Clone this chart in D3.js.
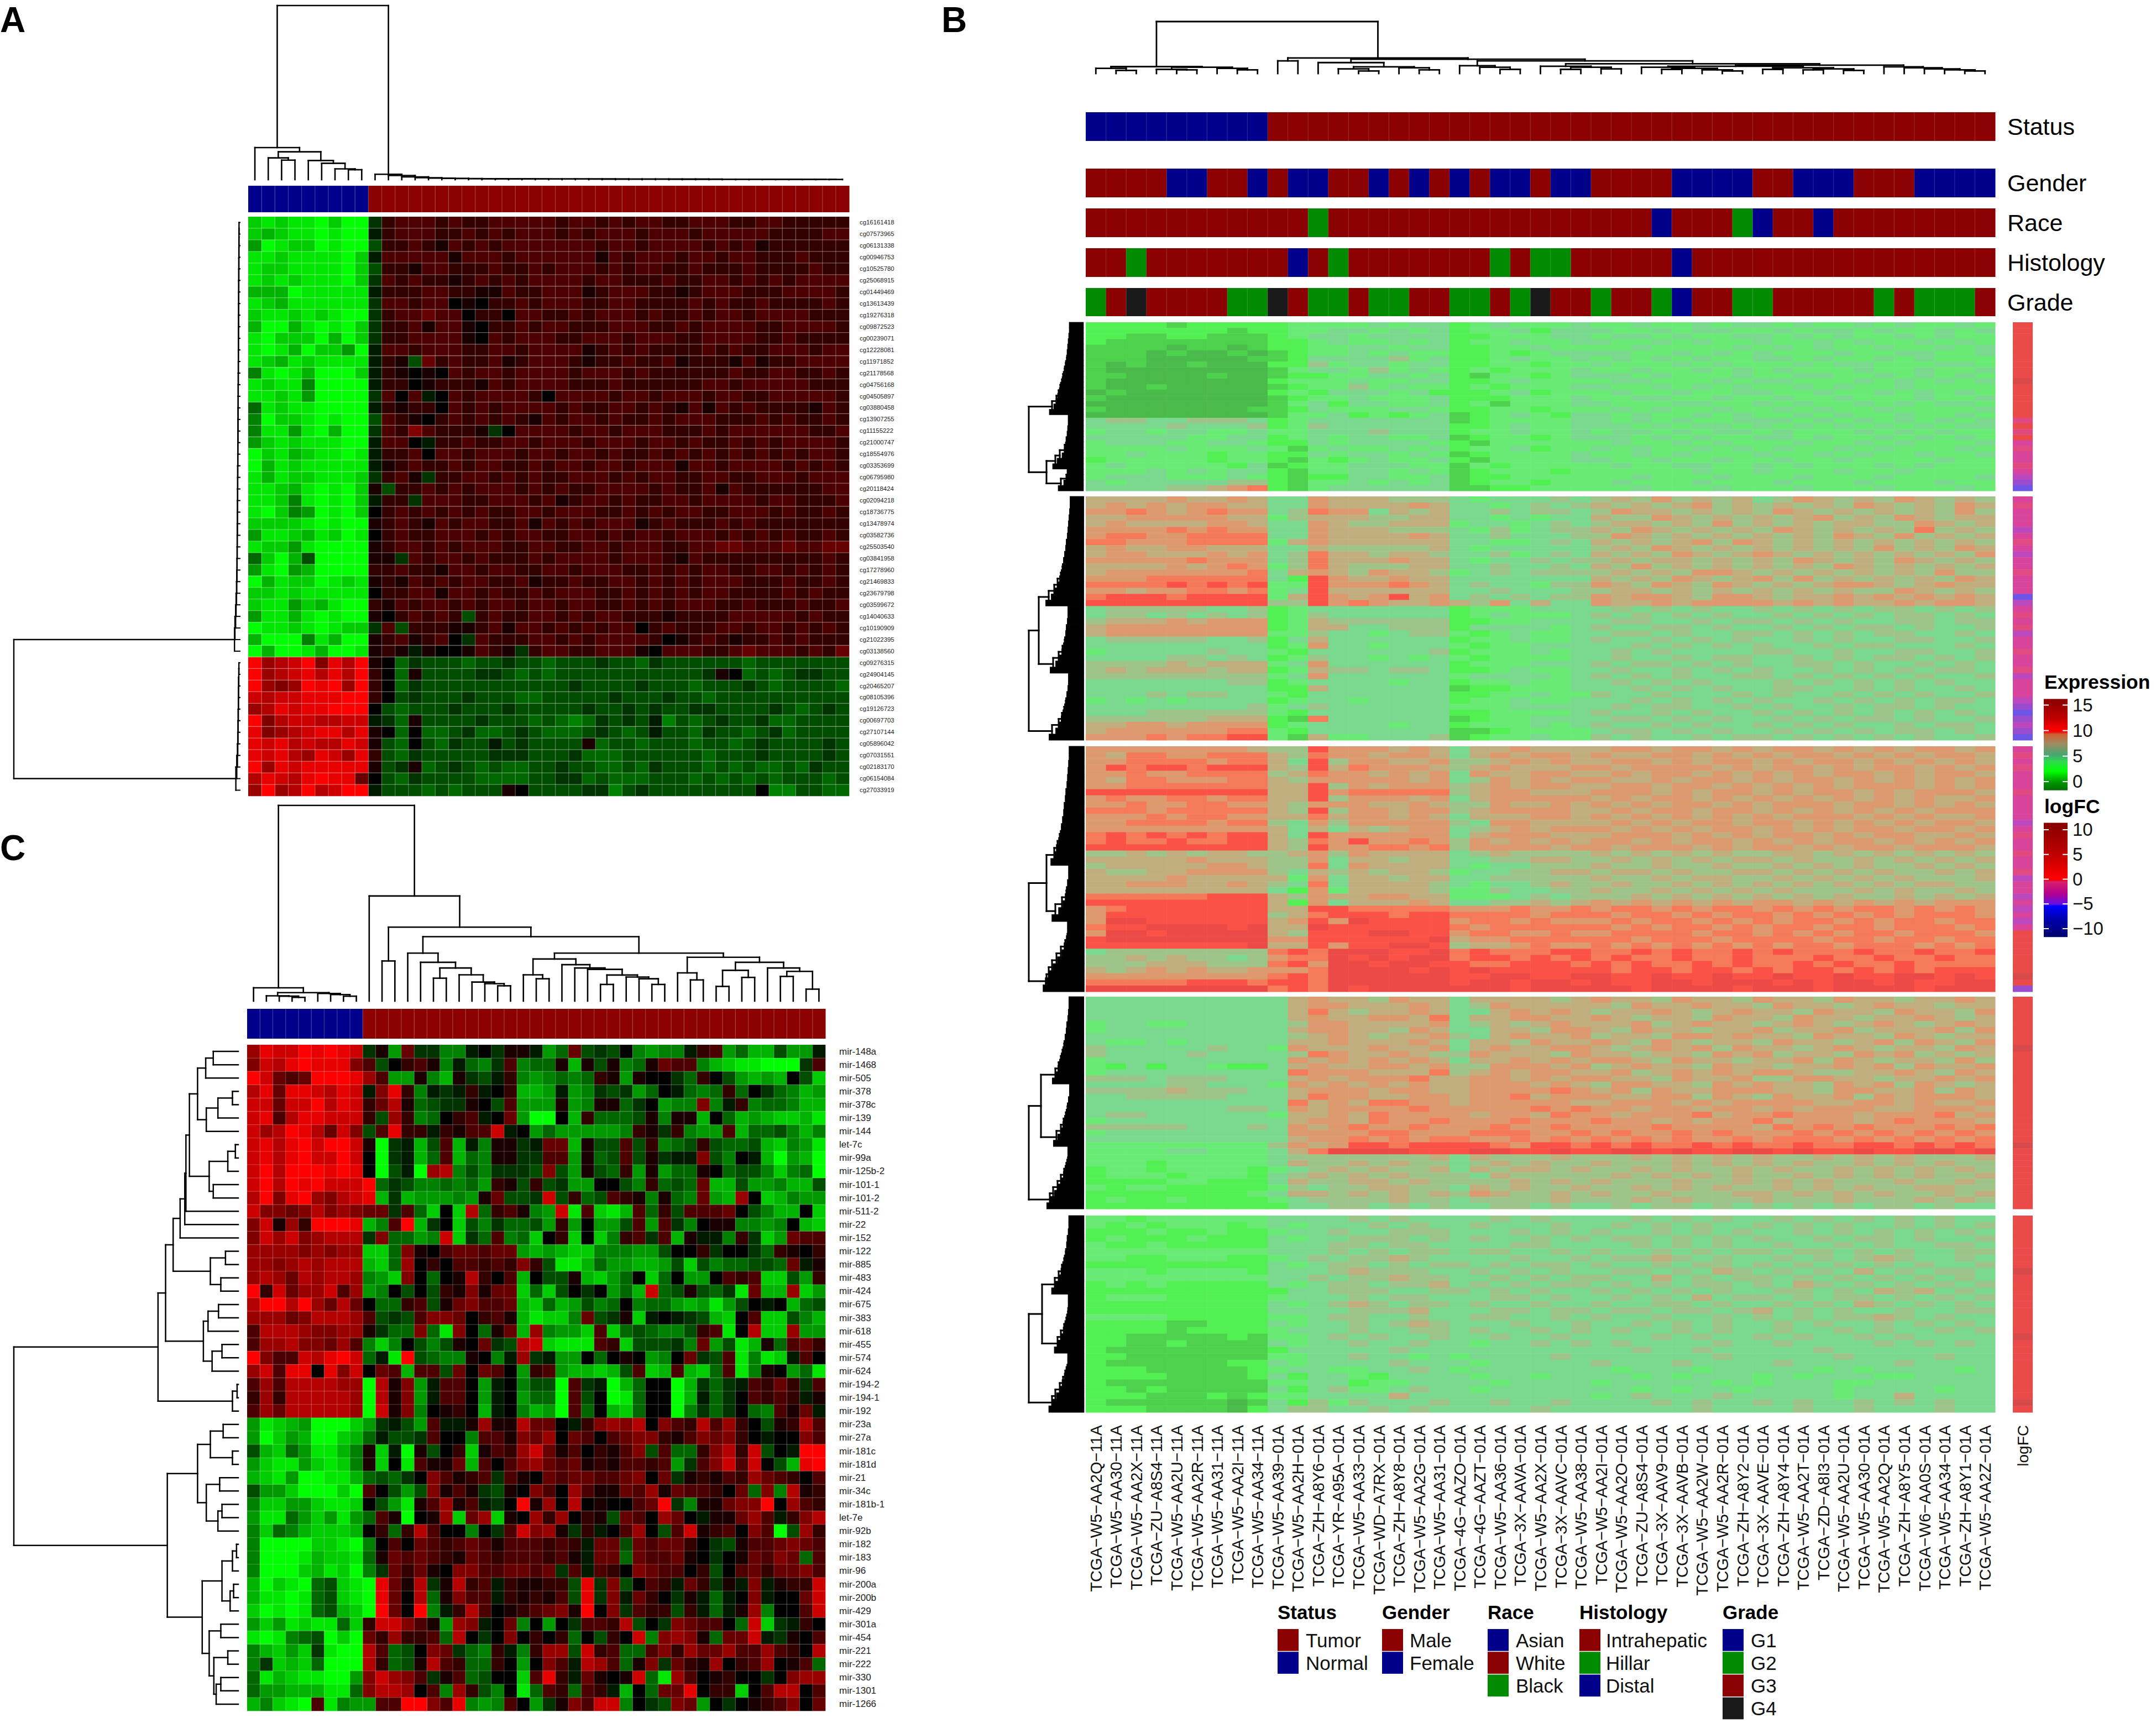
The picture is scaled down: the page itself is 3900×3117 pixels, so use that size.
<!DOCTYPE html>
<html><head><meta charset="utf-8">
<style>html,body{margin:0;background:#fff}svg{display:block}text{font-family:"Liberation Sans",Arial,sans-serif}</style>
<script src="https://cdnjs.cloudflare.com/ajax/libs/d3/7.8.5/d3.min.js"></script>
</head><body>
<script>
// ---------- Panel A ----------
const probeLabels=["cg16161418","cg07573965","cg06131338","cg00946753","cg10525780","cg25068915","cg01449469","cg13613439","cg19276318","cg09872523","cg00239071","cg12228081","cg11971852","cg21178568","cg04756168","cg04505897","cg03880458","cg13907255","cg11155222","cg21000747","cg18554976","cg03353699","cg06795980","cg20118424","cg02094218","cg18736775","cg13478974","cg03582736","cg25503540","cg03841958","cg17278960","cg21469833","cg23679798","cg03599672","cg14040633","cg10190909","cg21022395","cg03138560","cg09276315","cg24904145","cg20465207","cg08105396","cg19126723","cg00697703","cg27107144","cg05896042","cg07031551","cg02183170","cg06154084","cg27033919"];
// one letter per cell: lower case a..j = +0.1..+1 (red), upper case A..J = -0.1..-1 (green), 0 = black
const methylRows=[
"HIHIIJHJJ Bbcccb cbbccc ccbccb cbccbb cccbbc cbbbbb",
"HGHIIJIJJ Abcccb bcbcbc ccbcbc ccbccc bccccc bbbbcc",
"FJIHHJIJJ Cbbcba cbcbcc cccccb ccbccc cbcbca bbbbbb",
"IIHIIIIJH Accccc acccbc ccccca cbcccb ccbccb bbcbbb",
"IHHIIIIJH Cbbacc bbbcbb cbcccb cbccbb cbbbcb bbbcbb",
"IHIHIIIJH Bcbcbb abcbcb ccccbc cbbbcb bccbcb cbcccc",
"GGGJIIIII Abbbcc bbaacb bcccab cccbba bcccbb bccccb",
"IHGIIIIII Bccbcc 0a0bbc bcccbb ccbbbb cbcbbc bbbbcb",
"HIIHIHIJJ Bbccdc c0bb0c cbbcbc ccbcbb cbccbc cccbbb",
"GJJGIJIJH Bbbcac ca0bbc bccbbb cccbbc bccccb bccccb",
"IJHHHJGJH Bbbccc ca0cbc ccbbcc cbcccb bccccb bcbbbb",
"IJIGJHHFJ Accbcc cbbccb ccccab cbcbbb bcbcbb cccbcc",
"IHGIHIIII AbaCdb cbbcab cccbab bcbbca bbbaca bbcccc",
"EIJIGJJJH Aba0a0 cbccbc cccbcc cbcbbb bbbcbb ccbbcb",
"IHIIEJJJJ Abb0ab bbacbc cccbbb cbbbbb bccbcc cccbbb",
"IIHIFJJJJ Bc0cA0 cbcccc b0cccc bccbcc cbccbb cccccb",
"DIHIIJJJJ Ababb0 cbcbcc ccbcbb ccbcba cacbcb bbbacb",
"EJHHIJIJJ Ccba0b cbcbcb acbccb cbbcbc ccbbbc bcbbcb",
"EIIFIJGJJ Bcbecb bbaB0c cccbcc bcccbb bcbccc cccbbc",
"FHIHIIIJJ Acc0Ab bcbbcc bcccbc ccbccb cbbcbc bccccb",
"JHIGHIIJI Abbc0c cbcccb ccbccb cbbcbc bcbcbc bcbccb",
"JGIHIIIII Aabcbb cbccbb cbccbc cbccca ccbccc cbcbcb",
"IGIHHIIIH BbcaBb bccbcb cbbccc bcbccb bccbbc ccbccc",
"IIHGIJIJH aCbbcb cbcccb cbcbbc cccbcb bcacbb bbbbcc",
"IIHEIJIJH AbbBcc cbbccc bcabcc bcbbcc bccccb ccbbbc",
"IJHEFJIJH 0bcbcb cbcbbc cbcccb bcbcbc cbbccc bcbbcb",
"HHHHIJIJJ abcbac bccbbc acbcbc ccabcb bbcbcb bbbbbb",
"FIIHGIHJI 0bcbbc ccbcbc cbbccb cbccbc ccbcbc bcbbcb",
"IHHFIJJJJ abccbc bcccbb ccbbcc bcccbb ccddcc cdccdd",
"DHJGCJJJJ aaBcbc cbcbbb cbcccc bcccba cbbbbb bbbbcb",
"FIJFGJJJJ bbcbba ccbccb bccbcc cbbcbc bccbbc cbcbcb",
"JGIHHJIHI abacbc bccbbc abbcbb ccbcbc bcccbb bcbbcb",
"HHIHIIIII 0bbcca ccbcbb cbcccb bcbcbc bccbbb bcbcbb",
"HIIFHGIJJ bacbcc bcbccb ccbccb bcbcbc ccbbcb bbcbbc",
"FIIGIJIJJ a0bcbc bCbcbb ccbcbc cbbbab bbbccc ccbcbb",
"JIIHIJIHH BcCbbb aabcac cbcbcb cc0bcb bbccbc cbcbcb",
"GJJJEIGJJ abcabc 0Bcbbb ccbcbc cccb0a bcbabb cbcbbb",
"JGJJIGJJI abaAa0 0acbaB bccbbc cca0cc cbbcdc ccbcbd",
"jfghjeigj a0DBCC CDCCBC CDCCCB CCDBCC CCCCDC CCCCCC",
"jfghigigj b0DaCC CCBBCD CDCCCC CCCCCC CBa0DC DCBBCC",
"jfefjijfj b0DBCC CCCCCC CCCBCC CCBCCC DCCCBC DCCCCD",
"hghhiiijj b0CBCC CBCCCD DCCCCC BCCCBC CDCCCC CCCCCC",
"fgihiijjj 0CDCCC BCCCBC CCCCBC CBCBCC BBCCCC BCDCBC",
"jeghhgghh ABDaCC CCBCCC DCDEDB CBCAEC DCBCCB DDCCCC",
"iefghiigi a0D0DD CBDDCB CDDDCB CDCACC DBCCDC BDCCCC",
"ihighggih aCD0CD BCCACB CCCCaD CCDCCC DCCDCB CCCCBC",
"ihigfihfi bCDBCC CCCBBB CCCBDD DCCCCC CDCCCB CCCCBC",
"jfihiiiii aCBaDC BCDCDD CCBCCD DCDBCC CDCDCD DCDBCC",
"gihgijiid 0CDBCC CCDDDD CCBBDC DDDCCC DCDCDC DCCCDC",
"fjfgjghjj ACCCDC DCCCa0 CCCCBB ECBCCC CCCCC0 EECCDD"];
const statusA=Array.from("NNNNNNNNNTTTTTTTTTTTTTTTTTTTTTTTTTTTTTTTTTTTT");
const colDendroA=()=>[100,[18.4,0,[16,[12.5,0,[11.2,0,0]],[11,0,[9.4,0,[6.2,0,[5.7,0,0]]]]]],combRight([3.1,2.4,1.6,1.1,.85,.7,.62,.55,.52,.5,.45,.43,.42,.4,.38,.38,.36,.35,.33,.32,.3,.3,.28,.28,.27,.26,.25,.24,.22,.2,.2,.18,.16,.14,.12])];
const rowCombA1=[.4,.42,.45,.46,.5,.5,.55,.55,.6,.62,.65,.68,.7,.72,.75,.78,.8,.85,.85,.9,.92,.95,1,1,1.05,1.1,1.1,1.2,1.2,1.25,1.3,1.4,1.5,1.7,1.9,2.2,2.4];
const rowCombA2=[.45,.5,.6,.65,.7,.8,.85,.95,1.1,1.4,1.8];

// ---------- Panel C ----------
const mirLabels=["mir-148a","mir-1468","mir-505","mir-378","mir-378c","mir-139","mir-144","let-7c","mir-99a","mir-125b-2","mir-101-1","mir-101-2","mir-511-2","mir-22","mir-152","mir-122","mir-885","mir-483","mir-424","mir-675","mir-383","mir-618","mir-455","mir-574","mir-624","mir-194-2","mir-194-1","mir-192","mir-23a","mir-27a","mir-181c","mir-181d","mir-21","mir-34c","mir-181b-1","let-7e","mir-92b","mir-182","mir-183","mir-96","mir-200a","mir-200b","mir-429","mir-301a","mir-454","mir-221","mir-222","mir-330","mir-1301","mir-1266"];
const mirRows=[
"fihhjijih BaFdBB EEA0Ba aAFDdC BC0EFE EAbcFD GGCFFA",
"ehgijiiie cC0bca EADEBc EDDaGa CaEDad ccEGHI IJJJBc",
"jhdcdjjji fcFFaE GaBCAb EFEDED baFa00 BDb0CF GFG0CH",
"gidiihgih AeibEA BAbA0b GGFAFE BCBFD0 ADEDbD 0BDEGF",
"hhdhhjgih bdgaDC BBa0Cc FFFaFE aaDB0F EEeEAb EDDEGG",
"hicgiihhh bCfbED 0bcA0d FJJ0Gb DDDCaE aaG0DG FGHHGI",
"hfgjigdhe CcibbA bacchA 0FDFFF FFEbaB bEFFcG DDCEGE",
"higijhjjh aJBAGC cGAEaa BAddGa CCcCbE DCbCDD CGHEFI",
"higijhhjh 0JBAGD cGDEaa BBccFa DCcCaB AAeCE0 AGJFGJ",
"hjgjjjiji 0JCAJf gECEBB BCeCFa CDbFaF DDa0DC CEHEDJ",
"hjgjijhhh jDBCEE DEDFba CbCBFF 00CEbD CDdGGC FFEGGC",
"gjeijfegh iGBGFF FEFadC CBhCbD CcbaEa DEdFGf 0HGEFF",
"heedegefe ddBcDH 0HgDbc aEFhIc HIGcDb Ccccd0 CEGG0H",
"ehafbjjji GEcjGB 0HCEBD DCFbF0 FFCcFc BE0aaE EFE0GH",
"ehfhefggg BeDDFE hHBDcE DH0bH0 HEbcBc GaAAEb BHFdcc",
"ffffefeff HHDea0 cddcdd FGFGHH EEEFFC 00bB00 BDba0b",
"ffefgfggg GHDf0b 0ccbcb ebCIIG DFFGGF CHCEDD CCDdAa",
"fgfdgfggf EFHe0D 0agb0c G0CCaG HFD0HD 0FF0cb cHHCFb",
"jbhdffhcf FE0C0C baeadd HDHC0B 0FDGhD CaCDBI dGGfHF",
"gjjgjfdgd 0DDbcC adeccd GHDGFC ED0EDD FGFIFC 0A0GDC",
"fffdegggf cCBCce ed0bca GIHHEd CBaHA0 ABCGH0 cHHCEG",
"cgggfeeff aBDDeD Ie0Dad GfEFFH cHDCDE ECbcI0 gHHfFF",
"cffgeedfc EHE0CE Ca0dBC ghHIII cbHCCC BEdFCI GaDcdb",
"jecchgijh DAIjCD EEa0EA fBAFF0 D0a0FE 0dBCcI EIHAc0",
"fhcii0ieh 0dcGcc Cd0dc0 FbcFGG HGCcHG cGHDcI Ea0FDI",
"cfcggggff JgaeFA cc0FA0 ECCJcB AJGD00 JGBDBA cbdbBc",
"bfbgggggf JgaeFA cc0FA0 FDDJcC 0JID00 JGADB0 cbcbAa",
"cfdgggggf JhaeE0 ab0GA0 EGFJcD 0GHD00 JEBDB0 DEcadA",
"FIHGFJJJH FBACFc AAafaa gdd0Ab efeg0e cbgcfb 0Cabgc",
"FJHFGJJHG DACCBc 00Ecca edf0dc 0cdeeb acedeb 0A00ec",
"CGHDFIIGE aHAJaC 0bHacb fhdac0 baceCc DDbegb hC0Ajj",
"FHIIFHIHE aH0Ica adGc0c efdcda baccbc FBcehc h0CGij",
"GHIFJJIIG DCDB0e cabcBc a0dcdd ccde0d Babacb fdcb0c",
"CFFHJJJHJ c0CFCe acaBCa 0ec0fc aadcfa dccb0d DeEgab",
"EHHFFHIIH 0CFIac facAB0 jaf0g0 a00cdj BEaade ej0fcb",
"FIIDFHFIF DcaJ0a fHdfHa 0fbf0b aCdc0f d0Aaad fcAbeg",
"EHDEGHHHG 0bDbgc 00E0Bc hefaBb A0cf0C chabc0 ecJCfb",
"EJJJJHHIJ E0c0dc bcdcac ccbcbA ddCdcd db0BCa ccdedc",
"EJJJIGHHI Dadcdc badcbc ccbcaA ddDdcc da0B0a dcedDc",
"EJJJHGIHJ EBdbda 0eeccd dcdBcA cb0edc c0bC0c dbddec",
"GJHIJDCHI JidagB agbcAb aabbCi BeC0cb AdbBaA eAabbh",
"GIIJIDCHI Jid0gD aeccAb abacCi BeAdb0 BaADA0 eA00dh",
"HJIJIDCGH Jjd0jE Abgc0a bcdeaj 0eBcbb CbADAa fE00ch",
"FHFIHIIDH bhheca FfeA0d E0F0Bc cbgC0B edcc0D hHBAb0",
"IJIEDCJHJ dbfbbc Dg0B0e 0b0bD0 Cb0hEe feaDdd hABa0c",
"EGHFHBIJJ gcDC0e dBDEbA EbffCh bcDDce bfddfc cfcb0g",
"EBHGHDJJJ gbDCag cbDDb0 F0ecAg fcDaeB dbaf0b cf0acD",
"DIGHIIJJF ehfecB acDC00 HcibAd a0ahDI fc0ab0 0B0eff",
"DFFGGGIID eggf0c EfbCE0 IDcbDc bAG0Dd di0bbH 0cgg0c",
"GEHIJcIEF Fccjje ciEFEc 0FBaec hhE0BC edF0B0 abce0d"];
const statusC=Array.from("NNNNNNNNNTTTTTTTTTTTTTTTTTTTTTTTTTTTTTTTTTTTT");
const colDendroC=[100,
 [6.8,0,[4.3,[2.7,0,[2.5,0,[1.9,0,0]]],[3.9,0,[3.3,0,[2.5,0,0]]]]],
 [53.7,0,[37.8,[20.5,0,0],[32.9,
   [24.5,0,[19.8,0,[16.9,[11.7,0,0],[13.4,0,[9.7,0,[8.9,0,[7.8,0,0]]]]]]],
   [24.5,
    [21.5,[13.4,0,[11.4,0,0]],[18.6,0,[16.9,0,[16.2,0,[13.3,[8.5,0,0],[12.3,0,[11.4,0,[8.5,0,0]]]]]]]],
    [22.4,[14.4,0,[10.8,0,0]],[19.8,[15.7,[7.5,0,0],[12.1,0,0]],[16.9,0,[15.2,[12.6,0,0],[6.1,0,0]]]]]]]]]];
const rowDendroC=[386,
 [138,
  [125,
   [112,
    [100,[92,[90,[84,[70,[56,[43,0,0],0],[55,[35,[10,0,0],0],0]],[50,[18,[5,0,0],0],[43,0,0]]],0],0],0],
    [48,[22,0,0],[30,0,0]]],
   [60,[52,[34,0,0],0],[45,[28,0,0],0]]],
  [10,[2,0,0],0]],
 [122,
  [70,[48,[26,0,0],[10,0,0]],[55,[32,0,0],[35,[28,0,0],0]]],
  [62,[28,[10,[3,0,0],0],[14,[8,0,0],0]],[50,[30,0,0],[42,[18,0,0],[38,[30,0,0],0]]]]]];

// ---------- Panel B ----------
const sampleNames=["TCGA−W5−AA2Q−11A","TCGA−W5−AA30−11A","TCGA−W5−AA2X−11A","TCGA−ZU−A8S4−11A","TCGA−W5−AA2U−11A","TCGA−W5−AA2R−11A","TCGA−W5−AA31−11A","TCGA−W5−AA2I−11A","TCGA−W5−AA34−11A","TCGA−W5−AA39−01A","TCGA−W5−AA2H−01A","TCGA−ZH−A8Y6−01A","TCGA−YR−A95A−01A","TCGA−W5−AA33−01A","TCGA−WD−A7RX−01A","TCGA−ZH−A8Y8−01A","TCGA−W5−AA2G−01A","TCGA−W5−AA31−01A","TCGA−4G−AAZO−01A","TCGA−4G−AAZT−01A","TCGA−W5−AA36−01A","TCGA−3X−AAVA−01A","TCGA−W5−AA2X−01A","TCGA−3X−AAVC−01A","TCGA−W5−AA38−01A","TCGA−W5−AA2I−01A","TCGA−W5−AA2O−01A","TCGA−ZU−A8S4−01A","TCGA−3X−AAV9−01A","TCGA−3X−AAVB−01A","TCGA−W5−AA2W−01A","TCGA−W5−AA2R−01A","TCGA−ZH−A8Y2−01A","TCGA−3X−AAVE−01A","TCGA−ZH−A8Y4−01A","TCGA−W5−AA2T−01A","TCGA−ZD−A8I3−01A","TCGA−W5−AA2U−01A","TCGA−W5−AA30−01A","TCGA−W5−AA2Q−01A","TCGA−ZH−A8Y5−01A","TCGA−W6−AA0S−01A","TCGA−W5−AA34−01A","TCGA−ZH−A8Y1−01A","TCGA−W5−AA2Z−01A"];
const statusB="NNNNN NNNNT TTTTT TTTTT TTTTT TTTTT TTTTT TTTTT TTTTT";
const genderB="MMMMF FMMFM FFMMF MFMFM FFMFF MMMMF FFFMM FFFMM MFFFF";
const raceB="WWWWW WWWWW WBWWW WWWWW WWWWW WWWAW WWBAW WAWWW WWWWW";
const histologyB="IIHII IIIII DIHII IIIII HIHHI IIIID IIIII IIIII IIIII";
const gradeB="23433 33224 32232 23322 32433 23321 33223 33332 32223";
// expression level per cell, base 12 (1 = dark green .. 7 = tan .. b = deep red)
const exprBlock1=[
"333323333 344 445455 3454445 44544545545445454454",
"333333323 344 554545 3445355 54454554454554544545",
"332233222 345 545555 3344455 45545445545454454544",
"322222222 334 544545 3445445 54454544544545445454",
"222212212 334 455455 3344544 44544445454544544545",
"222121121 234 454544 3343455 55445454544454455445",
"222111112 235 555645 3345445 45454544554544545444",
"212112111 336 455455 3344344 54445454445455444554",
"211111111 245 546454 3434445 44544545454445445445",
"221111211 233 445545 3244345 55454445445544545454",
"211111111 344 454455 3345444 45544454554445454545",
"211211111 234 464544 3434445 54454545445454454444",
"121111111 343 555453 3345344 45445445544544545454",
"211111111 234 454445 3334445 44554454454454445445",
"111111111 245 355445 3424445 54445544545445454554",
"211111112 235 444554 3344344 45454454454544544445",
"111111111 244 534345 2345435 54544545445454454454",
"566556665 345 555555 2344445 54545445554545454545",
"555565556 346 555555 3345445 55454554545454545455",
"455455445 445 556555 3445445 45545455454445454544",
"555554455 345 455445 2344345 55454544554544545454",
"455544554 335 455554 3244444 45445454445445454445",
"444454445 424 544545 3445344 54544545454454544454",
"445444344 335 455454 2344445 44545444544545445445",
"344444344 324 345445 3244445 54454454454454444544",
"454444435 234 455544 2434444 45445544545444545444",
"444545455 324 455454 2344434 44444544544454454444",
"455544454 323 355445 2334444 44544454445444544445",
"545555566 324 454545 2344344 45444544454445444544",
"555566789 324 555555 2233444 44544454445444544454"];
const exprBlock2=[
"777787787 558 777666 5455565 67686767568767687676",
"787878877 558 777787 5545656 76767867676768767687",
"889878988 569 885767 5565665 68776767687676767686",
"778888877 467 776677 5545455 76687676767867687677",
"787777887 558 766777 4554565 67767686767677668767",
"888898988 558 777666 5464566 76876767687676769676",
"899889999 558 777787 5565556 68767676767687686767",
"998889999 478 777777 5544565 76767868767676767676",
"787788777 557 666667 5455555 67687676767676867687",
"788777878 569 776776 5564565 76768767876767676768",
"888889888 569 777877 5455656 67677676768767687676",
"777787898 469 766677 5565565 76867676767687676767",
"788888889 578 768776 4565666 67676887676767676866",
"888999999 53a 877877 5555555 76768767868676767687",
"9999a9a9a 44a 888987 5655466 87687687676788767877",
"887889989 45a 777777 5565556 67767676767676687676",
"9aaa9aaaa 47a 878a78 5656566 87887688767787878787",
"aaaaaaaaa 66a 898778 7685755 87787888878787787887",
"566666556 345 555555 3444555 56565655656565665656",
"566565656 346 555555 3454445 65656565565656566565",
"677787888 347 666666 3344555 56655656656565566566",
"788888888 347 755666 3555545 65566565565656656556",
"788888888 446 554566 4345445 56656556656565665565",
"566666556 357 555555 3445445 65565656556565566556",
"555555555 348 554555 4344555 55656565655656655565",
"455555655 435 555556 3444545 56565555665565566556",
"555566565 346 554545 4344445 56556566556565665656",
"666676777 458 555555 3444555 65665656556656556565",
"676777677 347 665665 3345445 56556565655656565665",
"666666666 458 555555 4555545 65656556656565656556",
"555555566 345 555455 3445445 56565655565656565655",
"555555555 337 555555 2334445 55656565566556565565",
"555656655 435 555555 3344544 65565556565565656556",
"454545555 345 545555 3445445 55656565655656565665",
"555555556 456 555555 4445555 56566556565565665655",
"555666666 435 555555 3344445 65565655656565656565",
"666666777 329 555555 2344555 56656565565656656556",
"778878888 345 555455 3444545 65565655656565565665",
"788888899 435 555555 2234444 56656565565656566565",
"8889899aa 427 445556 2344544 65655656656565656556"];
const exprBlock3=[
"888888887 66a 888787 5778777 78878878788787878878",
"879988999 769 887887 5787887 87788787878878787887",
"889999899 75a 688778 6678787 78878788787887878787",
"8a9aa9aaa 76a 798887 6787778 87888878788787887878",
"889889999 679 887878 5877887 78788787878788787887",
"879988899 768 888878 5687878 87787887878878787878",
"889999999 77a 687888 6787887 78878878787878887878",
"aaaaaaaaa 77a 899999 6788777 88878788787887878887",
"898899899 77a 688878 5788888 78788787878787878778",
"889889988 768 887787 6687787 87878878788878878787",
"999899999 76a 688788 6788887 78788788787878787888",
"888989988 779 788787 5777887 87878787878887878778",
"889999899 658 688888 6588777 78787887887878787887",
"888888888 757 576788 5678788 87878788787878878878",
"9a9a9a9aa 75a 888888 5788877 78887878788787887787",
"9a99a99aa 769 8a8898 6878787 88787887878788787878",
"aaaaaaaaa 76a 889989 6888878 87888787887878878887",
"667676776 678 687777 5676666 76767676677676767676",
"777778777 668 577677 5566776 67676767767667676767",
"677777887 669 587777 5455666 76676676676767667676",
"766778888 657 676776 4556677 67767667767676766767",
"777787777 748 577677 5566666 76676776676767676667",
"778887787 659 577776 5455676 67667676767676767766",
"777777777 538 477776 4465566 76676767676667676676",
"999999aaa 768 778877 4445656 66767676767676676767",
"aaaaaaaaa 738 577787 5566767 87878787887878787888",
"89aaaaaaa 77a a99999 8889889 89989899898989989898",
"8aaaaaaaa 679 aaa9aa 9999899 98998989989898989998",
"8bbaaaaaa 78a 8baaaa 8998988 89899898989989899899",
"9aabbbbab 77b aaaaaa 9899999 98989989899899899989",
"8bbabbbbb 76a aabbaa 8998898 89999899898989989998",
"abbbbbbbb 88a aaaaab 7889999 99899989999899899899",
"aaaaaaaab 77a 8aabba 6778988 98989898989989998989",
"566666666 9a9 bbbaab 9a999aa 99a9a99a9a999a99a99a",
"667676656 899 bababb 9aa9a9a 9a99a99a999a99a99a99",
"666777666 9a8 bbabba a99aaa9 a9a99a9a99a9a99a9999",
"767878778 889 bbbbab abaaaaa a9aa9aa9a9aa9a9a9aaa",
"888888888 9a9 bbbbbb aabbaab baabaabaabaabaabbaba",
"99999aaa9 aa9 bbbbbb abbabba baabbabbbababbabaabb",
"bbbbbbbbb 9a9 babbbb bbbabbb bbabbbbabbbabbbbabbb"];
const exprBlock4=[
"555555555 578 776877 5777767 87768776877687767787",
"555555555 578 877787 5687777 76877877687767877677",
"555555555 579 767787 5578787 67787678776877687768",
"555555555 578 778879 5778877 87677687768776778767",
"455445555 568 877778 5676787 77867877678767876787",
"455555555 578 877687 5577688 76877677867786777868",
"555555555 567 876778 6578778 67768878776877687677",
"544545555 577 877787 5776877 87687677687767868768",
"655555655 487 778778 5787788 76787868776787677687",
"655556555 569 877876 6877768 77677687867768786767",
"455555555 587 878787 5778787 88768776778687677686",
"435355433 578 778878 6688878 67877687767787868778",
"455555555 598 887779 6787887 78678787887667787687",
"666566655 578 788897 7887878 87768778668877677878",
"555566555 487 878787 7888787 68877687877687868767",
"666676665 578 887887 7888898 78687788877688778687",
"556666655 579 887788 7889788 87788687687786878887",
"555555555 597 879988 7888887 78887878888778878778",
"555555566 587 888898 8888989 88788788787888778887",
"566555555 477 879888 8788798 87888978898887888978",
"455555555 578 879889 8889888 98878788978887898887",
"666665556 587 898898 8898898 88898888798989888989",
"455555555 588 889988 8999889 89889898889898989898",
"555555555 578 898989 9889898 98989889899989898989",
"444444444 687 8aa9aa aa98aa9 a9a99a9a99a99aa9a9a9",
"444455444 579 bbbbaa abbaaba abbabaabbabaabaabbab",
"444444444 566 666667 5766676 66767676766767676667",
"444344444 576 676766 5676766 76667676767667676766",
"344344443 456 767667 5767767 66767667676676767676",
"344434443 567 676766 6576666 67676767667676767667",
"333344333 576 677676 6667676 76667667676766676676",
"434433333 465 667766 5767667 66767676676767667766",
"333333334 577 676767 6876676 76676667767676766767",
"343343333 456 666766 5666676 66767666766676667676",
"333333333 355 665656 5566565 56566565656565665655"];
const exprBlock5=[
"443444444 555 565655 5565655 55656565565656565655",
"434344434 545 556565 5655565 56565655656565565656",
"333433433 455 655666 5556565 65565656556565656565",
"343334333 545 566656 5655656 56656565655656656556",
"433433333 555 665665 5556655 55656565565565655665",
"444444444 555 656566 5665565 65565656656656565566",
"443344433 456 566765 5556556 56676565565656765565",
"333333333 545 665656 6565665 65565665656565656556",
"444344443 555 676665 5656565 56656576565657565665",
"444444444 556 566766 5565656 65575656656565656565",
"343433333 545 665667 5656566 56565665657656565656",
"333333333 355 666556 6565655 65656565566565767565",
"344433333 455 565665 5566565 56565756656566565656",
"333333333 545 676566 5655655 65566565565657656565",
"333333333 555 566675 5566566 56656656756565565566",
"444433333 445 665565 5665565 65565565656566765655",
"333322333 545 565676 5556556 55656565565655656565",
"333323333 455 565566 5655656 56556565565565655656",
"332222232 445 656556 5565565 55565655656556565555",
"332232222 545 565565 5455656 56555565565555656565",
"322222222 355 555655 5555555 55655655555655555555",
"332222222 445 565545 4555565 55555565555565555655",
"322222233 545 555655 5455555 65556555565555565555",
"333222223 455 445565 4555555 54555455555454555545",
"333322223 535 543555 5455455 55454555454555445555",
"322222222 445 534455 5545555 45555545455544555555",
"332322222 535 644565 5455555 55454554555545555455",
"333222323 445 555755 5555555 45655565555545575555",
"322222212 536 465556 5565565 55565655656556565655",
"333222213 566 556565 5555655 55555655556556555655"];
// logFC per row of each block: 5 = red, 3 = magenta, 0 = blue-violet (value = code-5 in logFC steps)
const logfcBlock1="555555555565555554545343343210";
const logfcBlock2="3433323432334333023434233433423332101210";
const logfcBlock3="3434333433332343343342332323235555555651";
const logfcBlock4="55555555655555555555555565555555555";
const logfcBlock5="555555556555555555655555555565";
// column dendrogram, B
const colDendroB=[100,
 [13.3,[10,0,[6,0,0]],[12,[8,0,[7,0,0]],[10,0,[7,0,0]]]],
 [30,[24.4,0,0],
  [27.5,
   [21,0,[13,[9,0,[5,0,0]],[11,0,[7,0,0]]]],
   [24.4,[15,0,[12,0,[8,0,0]]],
    [18.7,[14,0,[12,[8,0,0],[9,0,0]]],
     [16,[14,[12,0,[10,[8,0,0],[7,0,[5,0,0]]]],[11,[8,0,0],[9,[7,0,0],[6,0,0]]]],
      [13,0,[11,0,[9,0,[7,0,[5,0,0]]]]]]]]]]];
const wedge1a=[16,17,18,19,20,21,23,25,27,29,32,34,37,40,44,52];
const wedge1b=[18,19,20,22,23,25,29,38,46];
const wedge1c=[20,26,36];
const wedge2a=[14,15,16,17,18,19,21,22,24,26,28,30,33,36,42,48,58];
const wedge2b=[18,19,21,22,24,26,29,33,40,50];
const wedge2c=[17,18,20,22,24,27,30,34,40,52];
const wedge3a=[15,16,17,18,19,21,22,24,25,27,29,31,34,38,42,48];
const wedge3b=[16,18,20,22,26,34,46];
const wedge3c=[18,20,24,28,36,44,52,58,62];
const wedge4a=[16,17,18,20,21,23,25,27,30,33,36,40,46];
const wedge4b=[15,17,19,21,24,27,31,36,44];
const wedge4c=[18,20,23,26,30,36,42,50,56];
const wedge5a=[16,17,19,20,22,24,27,30,34,40,47];
const wedge5b=[17,18,20,23,26,30,36,42];
const wedge5c=[18,21,24,28,32,38,46,52];
// legend tables
const exprStops=[[-1.7,"#006e00"],[0,"#009a00"],[2,"#00ff00"],[4,"#30d850"],[5.2,"#45a870"],[7.5,"#a08a60"],[9.3,"#d06030"],[9.7,"#e81010"],[10,"#ff0000"],[12.5,"#c00000"],[16.2,"#860000"]];
const logfcStops=[[-11.7,"#00006a"],[-8,"#0000b0"],[-5.4,"#0000ff"],[-5.1,"#6010e8"],[-3,"#b00090"],[-.5,"#d8206a"],[-.2,"#ee0010"],[0,"#ff0000"],[5,"#c00000"],[11.4,"#860000"]];
const legendGroups=[
 {title:"Status",labels:["Tumor","Normal"],keys:["R","L"],x:2311,lx:2362},
 {title:"Gender",labels:["Male","Female"],keys:["R","L"],x:2500,lx:2550},
 {title:"Race",labels:["Asian","White","Black"],keys:["L","R","G"],x:2691,lx:2742},
 {title:"Histology",labels:["Intrahepatic","Hillar","Distal"],keys:["R","G","L"],x:2857,lx:2905},
 {title:"Grade",labels:["G1","G2","G3","G4"],keys:["L","G","R","K"],x:3116,lx:3167}];

// ---------- helpers ----------
function combLeft(hs){let n=[hs[0],0,0];for(const h of hs.slice(1))n=[h,n,0];return n;}
function combRight(hs){let n=[hs[hs.length-1],0,0];for(const h of hs.slice(0,-1).reverse())n=[h,0,n];return n;}
const clean=(s,len)=>{s=s.replace(/ /g,"");return s.slice(0,len).padEnd(len,s[s.length-1]);};
const levelOf=c=>{if(c==="0")return 0;const i="abcdefghij".indexOf(c);if(i>=0)return (i+1)/10;return -("ABCDEFGHIJ".indexOf(c)+1)/10;};
const COLS=45,colIdx=d3.range(COLS);
const RED="#8b0000",BLUE="#00008b",GRN="#008b00",BLK="#1a1a1a";
const legendFill={R:RED,L:BLUE,G:GRN,K:BLK};
const greenRed=d3.scaleLinear().domain([-1,0,1]).range(["#00ff00","#000000","#ff0000"]);

const svg=d3.select("body").append("svg").attr("width",3900).attr("height",3117).attr("viewBox","0 0 3900 3117");
svg.append("rect").attr("width",3900).attr("height",3117).attr("fill","#fff");

function drawTree(g,tree,pos,hpos,o={}){
 let n=0;const segs=[],leafSegs=[];
 (function walk(t){if(!Array.isArray(t)){const p=pos(n++);return {p,h:0,leaf:true};}
  const a=walk(t[1]),b=walk(t[2]),h=t[0];
  for(const c of [a,b])(c.leaf?leafSegs:segs).push({p1:c.p,h1:c.h,p2:c.p,h2:h});
  segs.push({p1:a.p,h1:h,p2:b.p,h2:h});
  return {p:(a.p+b.p)/2,h};})(tree);
 const L=s=>o.vertical?{x1:s.p1,y1:hpos(s.h1),x2:s.p2,y2:hpos(s.h2)}:{x1:hpos(s.h1),y1:s.p1,x2:hpos(s.h2),y2:s.p2};
 const draw=(arr,w)=>g.append("g").selectAll("line").data(arr).join("line").each(function(s){d3.select(this).attr("x1",L(s).x1).attr("y1",L(s).y1).attr("x2",L(s).x2).attr("y2",L(s).y2);}).attr("stroke","#000").attr("stroke-width",w).attr("stroke-linecap","square");
 draw(leafSegs,o.leafWidth||o.width||2.5);draw(segs,o.width||2.5);
}
const leafCount=t=>Array.isArray(t)?leafCount(t[1])+leafCount(t[2]):1;

function drawGridHeat(g,rows,x,y,vOp,hOp){
 const cells=rows.flatMap((r,i)=>Array.from(clean(r,COLS)).map((c,j)=>({i,j,v:levelOf(c)})));
 g.append("g").selectAll("rect").data(cells).join("rect")
  .attr("x",d=>x(d.j)).attr("y",d=>y(d.i)).attr("width",x.bandwidth()+.3).attr("height",y.bandwidth()+.3)
  .attr("fill",d=>greenRed(d.v));
 g.append("g").selectAll("line.v").data(d3.range(1,COLS)).join("line").attr("x1",d=>x(d)).attr("x2",d=>x(d)).attr("y1",y.range()[0]).attr("y2",y.range()[1]).attr("stroke","#fff").attr("stroke-opacity",vOp).attr("stroke-width",1.3);
 g.append("g").selectAll("line.h").data(d3.range(1,rows.length)).join("line").attr("y1",d=>y(d)).attr("y2",d=>y(d)).attr("x1",x.range()[0]).attr("x2",x.range()[1]).attr("stroke","#fff").attr("stroke-opacity",hOp).attr("stroke-width",1.3);
}
function drawStatus(g,vals,x,y0,y1){
 g.append("g").selectAll("rect").data(vals).join("rect").attr("x",(d,i)=>x(i)).attr("y",y0).attr("width",x.bandwidth()+.5).attr("height",y1-y0).attr("fill",d=>d==="N"?BLUE:RED);
 g.append("g").selectAll("line").data(d3.range(1,COLS)).join("line").attr("x1",d=>x(d)).attr("x2",d=>x(d)).attr("y1",y0).attr("y2",y1).attr("stroke","#fff").attr("stroke-opacity",.22).attr("stroke-width",1.3);
}
function rowAxis(g,y,labels,xpos,size){
 const ax=d3.axisRight(y).tickSize(0).tickPadding(0).tickFormat(i=>labels[i]);
 const a=g.append("g").attr("transform",`translate(${xpos},0)`).call(ax);
 a.select(".domain").remove();
 a.selectAll("text").attr("font-size",size).attr("fill","#1c1c1c").attr("font-family","Liberation Sans");
}
function letter(t,x,y){svg.append("text").attr("x",x).attr("y",y).attr("font-size",64).attr("font-weight","bold").text(t);}

// ---------- draw A ----------
{const g=svg.append("g");
 const x=d3.scaleBand().domain(colIdx).range([449,1536]);
 const y=d3.scaleBand().domain(d3.range(methylRows.length)).range([392,1440]);
 drawStatus(g,statusA,x,336,384);
 drawGridHeat(g,methylRows,x,y,.28,.36);
 rowAxis(g,y,probeLabels,1555,11.4);
 const hY=d3.scaleLinear().domain([0,100]).range([325,10]);
 drawTree(g,colDendroA(),i=>x(i)+x.bandwidth()/2,hY,{vertical:true,width:2.6});
 const hX=d3.scaleLinear().domain([0,100]).range([434,25]);
 drawTree(g,[100,combLeft(rowCombA1),combLeft(rowCombA2)],i=>y(i)+y.bandwidth()/2,hX,{width:2.4,leafWidth:2});
}
// ---------- draw C ----------
{const g=svg.append("g");
 const x=d3.scaleBand().domain(colIdx).range([447,1493]);
 const y=d3.scaleBand().domain(d3.range(mirRows.length)).range([1890,3095]);
 drawStatus(g,statusC,x,1825,1879);
 drawGridHeat(g,mirRows,x,y,.2,.2);
 rowAxis(g,y,mirLabels,1518,17);
 const hY=d3.scaleLinear().domain([0,100]).range([1811,1457]);
 drawTree(g,colDendroC,i=>x(i)+x.bandwidth()/2,hY,{vertical:true,width:2.6});
 const hX=d3.scaleLinear().domain([0,386]).range([431,25]);
 drawTree(g,rowDendroC,i=>y(i)+y.bandwidth()/2,hX,{width:2.5});
}
// ---------- draw B ----------
const exprLevel=d3.scaleLinear().domain([1,2,3,4,5,6,7,8,9,10,11]).range(["#4aba4a","#4ed24e","#52f052","#68ea74","#7ad98e","#9ec48a","#c0ae7e","#dd9a6e","#f47a5a","#fb5248","#ec4a46"]);
const logfcLevel=d3.scaleLinear().domain([-5,-4,-3,-2,-1,0,1]).range(["#6f55e6","#9a4ccf","#bd48bd","#d8449c","#e04a80","#ea4a4a","#d84a4a"]);
{const g=svg.append("g");
 const x=d3.scaleBand().domain(colIdx).range([1964,3609]);
 const tracks=[[statusB,{N:BLUE,T:RED},"Status",203,255],[genderB,{M:RED,F:BLUE},"Gender",305,357],[raceB,{W:RED,B:GRN,A:BLUE},"Race",377,429],[histologyB,{I:RED,H:GRN,D:BLUE},"Histology",449,501],[gradeB,{1:BLUE,2:GRN,3:RED,4:BLK},"Grade",521,572]];
 for(const [vals,cols,name,y0,y1] of tracks){
  g.append("g").selectAll("rect").data(Array.from(clean(vals,COLS))).join("rect").attr("x",(d,i)=>x(i)).attr("y",y0).attr("width",x.bandwidth()+.5).attr("height",y1-y0).attr("fill",d=>cols[d]);
  g.append("g").selectAll("line").data(d3.range(1,COLS)).join("line").attr("x1",d=>x(d)).attr("x2",d=>x(d)).attr("y1",y0).attr("y2",y1).attr("stroke","#fff").attr("stroke-opacity",.14).attr("stroke-width",1.2);
  g.append("text").attr("x",3631).attr("y",(y0+y1)/2+15).attr("font-size",43).text(name);
 }
 const hY=d3.scaleLinear().domain([0,100]).range([133,39]);
 drawTree(g,colDendroB,i=>x(i)+x.bandwidth()/2,hY,{vertical:true,width:2.8});
 const blocks=[
  [exprBlock1,logfcBlock1,583,888,[94,combLeft(wedge1a),[62,combLeft(wedge1b),combLeft(wedge1c)]]],
  [exprBlock2,logfcBlock2,898,1339,[94,[76,combLeft(wedge2a),combLeft(wedge2b)],combLeft(wedge2c)]],
  [exprBlock3,logfcBlock3,1350,1794,[94,[62,combLeft(wedge3a),combLeft(wedge3b)],combLeft(wedge3c)]],
  [exprBlock4,logfcBlock4,1803,2187,[94,[72,combLeft(wedge4a),combLeft(wedge4b)],combLeft(wedge4c)]],
  [exprBlock5,logfcBlock5,2199,2555,[94,[70,combLeft(wedge5a),combLeft(wedge5b)],combLeft(wedge5c)]]];
 for(const [rows,fc,y0,y1,tree] of blocks){
  const y=d3.scaleBand().domain(d3.range(rows.length)).range([y0,y1]);
  const cells=rows.flatMap((r,i)=>Array.from(clean(r,COLS)).map((c,j)=>({i,j,v:parseInt(c,12)})));
  g.append("g").selectAll("rect").data(cells).join("rect").attr("x",d=>x(d.j)).attr("y",d=>y(d.i)).attr("width",x.bandwidth()+.5).attr("height",y.bandwidth()+.5).attr("fill",d=>exprLevel(d.v));
  g.append("g").selectAll("rect").data(d3.range(rows.length)).join("rect").attr("x",3641).attr("width",36).attr("y",i=>y(i)).attr("height",y.bandwidth()+.5).attr("fill",i=>logfcLevel(+fc[Math.min(i,fc.length-1)]-5));
  const nLeaf=leafCount(tree);
  const ly=d3.scaleBand().domain(d3.range(nLeaf)).range([y0,y1]);
  const hX=d3.scaleLinear().domain([0,94]).range([1955,1861]);
  drawTree(g,tree,i=>ly(i)+ly.bandwidth()/2,hX,{width:3,leafWidth:ly.bandwidth()+.8});
 }
 // sample names
 const ax=g.append("g").attr("transform","translate(0,2578)").call(d3.axisBottom(x).tickSize(0).tickFormat(i=>sampleNames[i]));
 ax.select(".domain").remove();
 ax.selectAll("text").attr("transform","rotate(-90)").attr("x",0).attr("y",0).attr("dy",".36em").attr("text-anchor","end").attr("font-size",29).attr("fill","#111").attr("font-family","Liberation Sans");
 g.append("text").attr("transform","translate(3669,2578) rotate(-90)").attr("text-anchor","end").attr("font-size",28).attr("fill","#111").text("logFC");
 // categorical legends
 for(const lg of legendGroups){
  g.append("text").attr("x",lg.x).attr("y",2929).attr("font-size",35).attr("font-weight","bold").text(lg.title);
  const ly=d3.scaleBand().domain(d3.range(lg.labels.length)).range([2947,2947+41.2*lg.labels.length]);
  g.append("g").selectAll("rect").data(lg.keys).join("rect").attr("x",lg.x).attr("y",(d,i)=>ly(i)).attr("width",38).attr("height",ly.bandwidth()-1.5).attr("fill",d=>legendFill[d]);
  g.append("g").selectAll("text").data(lg.labels).join("text").attr("x",lg.lx).attr("y",(d,i)=>ly(i)+ly.bandwidth()/2+12).attr("font-size",35).attr("fill","#111").text(d=>d);
 }
 // colour-bar legends
 const defs=svg.append("defs");
 function colorBar(id,title,titleY,stops,ticks,px){
  const [vLo,vHi]=d3.extent(stops,d=>d[0]);
  const y=d3.scaleLinear().domain(px.domain).range(px.range);
  const barTop=y(vHi),barBot=y(vLo);
  const lg=defs.append("linearGradient").attr("id",id).attr("x1",0).attr("x2",0).attr("y1",1).attr("y2",0);
  lg.selectAll("stop").data(stops).join("stop").attr("offset",d=>(d[0]-vLo)/(vHi-vLo)).attr("stop-color",d=>d[1]);
  g.append("text").attr("x",3698).attr("y",titleY).attr("font-size",35.5).attr("font-weight","bold").text(title);
  g.append("rect").attr("x",3697).attr("width",43).attr("y",barTop).attr("height",barBot-barTop).attr("fill",`url(#${id})`);
  const a=g.append("g").attr("transform","translate(3740,0)").call(d3.axisRight(y).tickValues(ticks).tickSize(0).tickPadding(9));
  a.select(".domain").remove();
  a.selectAll("text").attr("font-size",33).attr("fill","#111").attr("font-family","Liberation Sans");
  for(const [a0,a1] of [[3697,3706],[3731,3740]])
   g.append("g").selectAll("line").data(ticks).join("line").attr("x1",a0).attr("x2",a1).attr("y1",d=>y(d)).attr("y2",d=>y(d)).attr("stroke","#fff").attr("stroke-width",2);
 }
 colorBar("gradExpr","Expression",1246,exprStops,[0,5,10,15],{domain:[0,15],range:[1414,1275.5]});
 colorBar("gradFc","logFC",1471,logfcStops,[-10,-5,0,5,10],{domain:[-10,10],range:[1680,1501]});
}
letter("A",0,58);letter("B",1703,58);letter("C",0,1556);
</script>
</body></html>
